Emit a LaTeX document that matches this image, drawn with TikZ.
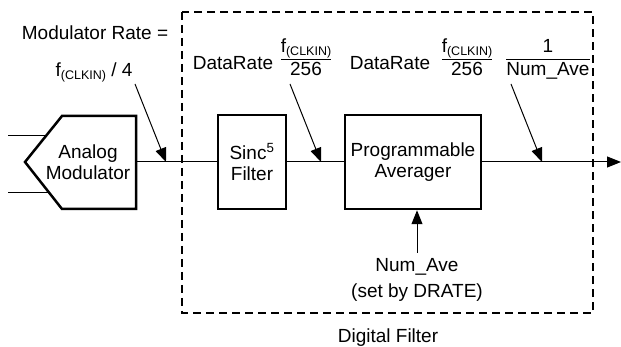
\documentclass[tikz,border=0pt]{standalone}
\usepackage{fontspec}
\setmainfont{Liberation Sans}
\usetikzlibrary{arrows.meta,positioning}

\newcommand{\fclk}{f\raisebox{-0.3ex}{\fontsize{12.5}{13}\selectfont(CLKIN)}}
\newcommand{\ovr}[2]{{\setlength\arrayrulewidth{1pt}\renewcommand\arraystretch{0.95}%
  \begin{tabular}{@{}c@{}}#1\\\hline #2\end{tabular}}}

\tikzset{
  blk/.style={draw,line width=2.5pt,minimum height=94pt,align=center,inner sep=0pt},
  sig/.style={line width=1pt},
  ptr/.style={line width=1pt,-{Triangle[length=14pt,width=11pt]}},
  lbl/.style={inner sep=0pt,align=center},
}

\begin{document}
\begin{tikzpicture}[x=1pt,y=-1pt,font=\fontsize{19}{23}\selectfont,line join=miter]
\useasboundingbox (0,0) rectangle (621,347);

%% ---------------- digital filter frame ----------------
\draw[line width=2pt,dash pattern=on 8pt off 5pt] (182,12) rectangle (593,313);
\node[lbl] (dfilt) at (388,338) {Digital Filter};

%% ---------------- analog modulator ----------------
\draw[line width=2.5pt] (25,162) -- (62,116) -- (136,116) -- (136,209) -- (62,209) -- cycle;
\node[lbl] (mod) at (88,162) {Analog\\[-2pt]Modulator};
\coordinate (modout) at (136,162);
\draw[sig] (8,136) -- (46,136);
\draw[sig] (8,193) -- (49,193);

%% ---------------- filter blocks ----------------
\node[blk,minimum width=68pt] (sinc) at (252,162) {Sinc\textsuperscript{5}\\[-2pt]Filter};
\node[blk,minimum width=136pt] (avg) at (413,162) {Programmable\\[-2pt]Averager};
\coordinate (out) at (621,162);

\draw[sig] (modout) -- (sinc.west);
\draw[sig] (sinc.east) -- (avg.west);
\draw[ptr] (avg.east) -- (out);

%% ---------------- rate labels ----------------
\node[lbl] (mrate) at (95,33) {Modulator Rate =};
\node[lbl] (mfrac) at (94,72) {\fclk\ / 4};
\node[lbl] (dr1) at (233,63) {DataRate};
\node[lbl] (fr1) at (306,60) {\ovr{\fclk}{256}};
\node[lbl] (dr2) at (390,63) {DataRate};
\node[lbl] (fr2) at (467,60) {\ovr{\fclk}{256}};
\node[lbl] (fr3) at (548,60) {\ovr{1}{Num\_Ave}};

\coordinate (p1) at (135,84);  \coordinate (q1) at (166,162);
\coordinate (p2) at (290,84);  \coordinate (q2) at (321,162);
\coordinate (p3) at (511,84);  \coordinate (q3) at (542,162);
\draw[ptr] (p1) -- (q1);
\draw[ptr] (p2) -- (q2);
\draw[ptr] (p3) -- (q3);

%% ---------------- averaging control ----------------
\node[lbl] (nave) at (417,267) {Num\_Ave};
\node[lbl] (drate) at (417,293) {(set by DRATE)};
\coordinate (nsrc) at (417,253);
\draw[ptr] (nsrc) -- (nsrc |- avg.south);

\end{tikzpicture}
\end{document}
